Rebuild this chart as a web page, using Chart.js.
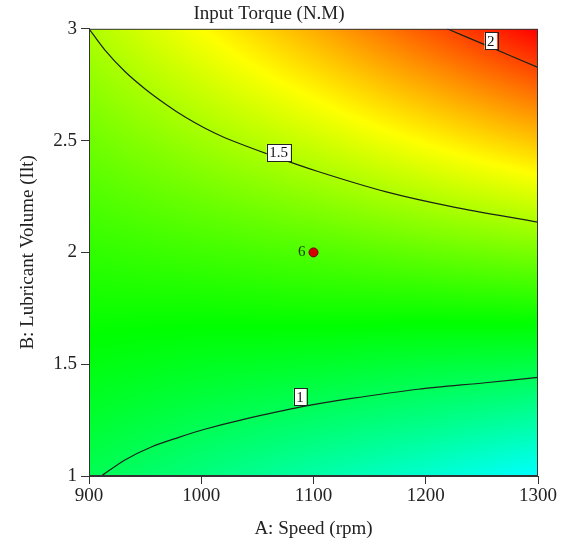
<!DOCTYPE html>
<html>
<head>
<meta charset="utf-8">
<script src="https://cdn.jsdelivr.net/npm/chart.js@4.4.1/dist/chart.umd.min.js"></script>
<style>
  html, body { margin: 0; padding: 0; background: #fff; }
  #wrap { width: 561px; height: 554px; }
</style>
</head>
<body>
<div id="wrap"><canvas id="torque"></canvas></div>
<script>
// grid of the response surface
const gridSpeed = [900, 1000, 1100, 1200, 1300];
const gridVolume = [1, 1.25, 1.5, 1.75, 2, 2.25, 2.5, 2.75, 3];
// one row per speed, values going up in volume
const gridTorque = [
  [1.01, 1.08, 1.14, 1.20, 1.26, 1.32, 1.38, 1.44, 1.50],
  [0.93, 1.02, 1.11, 1.20, 1.29, 1.38, 1.47, 1.56, 1.65],
  [0.85, 0.97, 1.09, 1.21, 1.32, 1.44, 1.56, 1.68, 1.80],
  [0.77, 0.92, 1.06, 1.21, 1.36, 1.51, 1.66, 1.81, 1.96],
  [0.68, 0.86, 1.04, 1.22, 1.40, 1.58, 1.76, 1.94, 2.12],
];

// contour lines
const contour1 = [
  { x: 911, y: 1.0 }, { x: 932, y: 1.072 }, { x: 956, y: 1.131 },
  { x: 980, y: 1.173 }, { x: 1003, y: 1.209 }, { x: 1036, y: 1.251 },
  { x: 1090, y: 1.31 }, { x: 1134, y: 1.347 }, { x: 1193, y: 1.388 },
  { x: 1253, y: 1.417 }, { x: 1300, y: 1.441 },
];
const contour15 = [
  { x: 900, y: 3.0 }, { x: 914, y: 2.906 }, { x: 932, y: 2.809 },
  { x: 950, y: 2.731 }, { x: 968, y: 2.664 }, { x: 986, y: 2.604 },
  { x: 1003, y: 2.556 }, { x: 1021, y: 2.513 }, { x: 1063, y: 2.433 },
  { x: 1104, y: 2.362 }, { x: 1164, y: 2.272 }, { x: 1223, y: 2.205 },
  { x: 1300, y: 2.135 },
];
const contour2 = [
  { x: 1219, y: 3.0 }, { x: 1253, y: 2.928 }, { x: 1300, y: 2.827 },
];
const contourLabels = ["1", "1.5", "2"];
const contourLabelPos = [
  { x: 1088, y: 1.355 }, { x: 1069, y: 2.447 }, { x: 1258, y: 2.946 },
];

// design point
const designPoints = [{ x: 1100, y: 2 }];
const designCounts = ["6"];

// colour ramp: torque value -> colour
const rampValues = [0.21, 0.68, 1.17, 1.65, 2.12];
const rampColors = [
  [0, 0, 255], [0, 255, 255], [0, 255, 0], [255, 255, 0], [255, 0, 0],
];

function torqueColor(v) {
  if (v <= rampValues[0]) return rampColors[0];
  for (let i = 1; i < rampValues.length; i++) {
    if (v <= rampValues[i]) {
      const t = (v - rampValues[i - 1]) / (rampValues[i] - rampValues[i - 1]);
      const a = rampColors[i - 1];
      const b = rampColors[i];
      return [a[0] + (b[0] - a[0]) * t, a[1] + (b[1] - a[1]) * t, a[2] + (b[2] - a[2]) * t];
    }
  }
  return rampColors[rampColors.length - 1];
}

function findCell(arr, v) {
  let i = 0;
  while (i < arr.length - 2 && v > arr[i + 1]) i++;
  const t = (v - arr[i]) / (arr[i + 1] - arr[i]);
  return [i, Math.max(0, Math.min(1, t))];
}

function surfaceAt(a, b) {
  const [i, tx] = findCell(gridSpeed, a);
  const [j, ty] = findCell(gridVolume, b);
  const z00 = gridTorque[i][j], z10 = gridTorque[i + 1][j];
  const z01 = gridTorque[i][j + 1], z11 = gridTorque[i + 1][j + 1];
  return z00 * (1 - tx) * (1 - ty) + z10 * tx * (1 - ty) + z01 * (1 - tx) * ty + z11 * tx * ty;
}

const serif = "'Liberation Serif', 'Times New Roman', serif";
const ink = "#222";

const surfacePlugin = {
  id: "surface",
  beforeDatasetsDraw(chart) {
    const { ctx, chartArea, scales } = chart;
    const w = Math.round(chartArea.right - chartArea.left);
    const h = Math.round(chartArea.bottom - chartArea.top);
    const off = document.createElement("canvas");
    off.width = w;
    off.height = h;
    const octx = off.getContext("2d");
    const img = octx.createImageData(w, h);
    for (let py = 0; py < h; py++) {
      const b = scales.y.getValueForPixel(chartArea.top + py + 0.5);
      for (let px = 0; px < w; px++) {
        const a = scales.x.getValueForPixel(chartArea.left + px + 0.5);
        const c = torqueColor(surfaceAt(a, b));
        const k = (py * w + px) * 4;
        img.data[k] = c[0];
        img.data[k + 1] = c[1];
        img.data[k + 2] = c[2];
        img.data[k + 3] = 255;
      }
    }
    octx.putImageData(img, 0, 0);
    ctx.save();
    ctx.drawImage(off, chartArea.left, chartArea.top, w, h);
    ctx.restore();
  },
  afterDatasetsDraw(chart) {
    const { ctx, chartArea, scales } = chart;
    ctx.save();
    // contour labels
    ctx.font = "15px " + serif;
    ctx.textAlign = "center";
    ctx.textBaseline = "middle";
    contourLabels.forEach((txt, i) => {
      const x = scales.x.getPixelForValue(contourLabelPos[i].x);
      const y = scales.y.getPixelForValue(contourLabelPos[i].y);
      const tw = ctx.measureText(txt).width + 5;
      const th = 17;
      ctx.fillStyle = "#fff";
      ctx.fillRect(x - tw / 2, y - th / 2, tw, th);
      ctx.strokeStyle = "#222";
      ctx.lineWidth = 1;
      ctx.strokeRect(Math.round(x - tw / 2) + 0.5, Math.round(y - th / 2) + 0.5, Math.round(tw), th);
      ctx.fillStyle = "#111";
      ctx.fillText(txt, x, y + 1);
    });
    // design point count
    ctx.font = "15px " + serif;
    ctx.textAlign = "right";
    ctx.fillStyle = "#1c3a10";
    designPoints.forEach((p, i) => {
      const x = scales.x.getPixelForValue(p.x);
      const y = scales.y.getPixelForValue(p.y);
      ctx.fillText(designCounts[i], x - 8, y);
    });
    // frame
    ctx.strokeStyle = "#333";
    ctx.lineWidth = 1;
    ctx.strokeRect(chartArea.left + 0.5, chartArea.top + 0.5,
      chartArea.right - chartArea.left - 1, chartArea.bottom - chartArea.top - 1);
    ctx.restore();
  },
};

function contourSet(points) {
  return {
    type: "line",
    data: points,
    borderColor: "#1a241a",
    borderWidth: 1.2,
    pointRadius: 0,
    tension: 0.3,
    fill: false,
  };
}

const ctx = document.getElementById("torque").getContext("2d");
new Chart(ctx, {
  type: "scatter",
  data: {
    datasets: [
      contourSet(contour1),
      contourSet(contour15),
      contourSet(contour2),
      {
        type: "scatter",
        data: designPoints,
        backgroundColor: "#d40000",
        borderColor: "#700000",
        borderWidth: 1,
        pointRadius: 4.5,
      },
    ],
  },
  options: {
    responsive: true,
    maintainAspectRatio: false,
    animation: false,
    layout: { padding: { left: 0, right: 23, top: 0, bottom: 0 } },
    plugins: {
      legend: { display: false },
      tooltip: { enabled: false },
      title: {
        display: true,
        text: "Input Torque (N.M)",
        color: ink,
        font: { family: serif, size: 19, weight: "normal" },
        padding: { top: 3, bottom: 3 },
      },
    },
    scales: {
      x: {
        type: "linear",
        min: 900,
        max: 1300,
        afterFit: (scale) => { scale.height = 78; },
        ticks: {
          stepSize: 100,
          color: ink,
          padding: 1,
          font: { family: serif, size: 19 },
          callback: (v) => String(v),
        },
        grid: { drawOnChartArea: false, drawTicks: true, tickLength: 8, color: "#333" },
        border: { display: true, color: "#333" },
        title: {
          display: true,
          text: "A: Speed (rpm)",
          color: ink,
          font: { family: serif, size: 19 },
          padding: { top: 0, bottom: 14 },
        },
      },
      y: {
        type: "linear",
        min: 1,
        max: 3,
        afterFit: (scale) => { scale.width = 89; },
        ticks: {
          stepSize: 0.5,
          color: ink,
          padding: 4,
          font: { family: serif, size: 19 },
          callback: (v) => String(v),
        },
        grid: { drawOnChartArea: false, drawTicks: true, tickLength: 8, color: "#333" },
        border: { display: true, color: "#333" },
        title: {
          display: true,
          text: "B: Lubricant Volume (Ilt)",
          color: ink,
          font: { family: serif, size: 19 },
          padding: { top: 17, bottom: 0 },
        },
      },
    },
  },
  plugins: [surfacePlugin],
});
</script>
</body>
</html>
